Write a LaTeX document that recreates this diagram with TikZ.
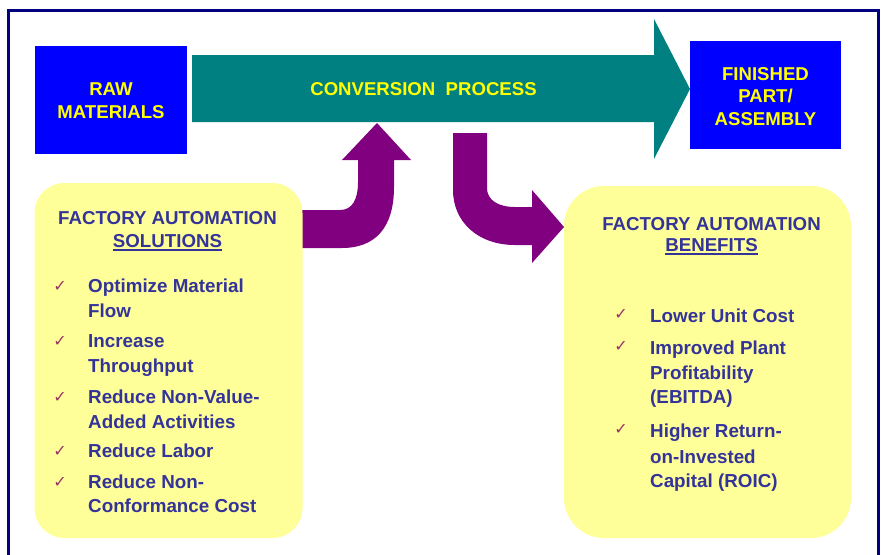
\documentclass[tikz,border=0pt]{standalone}
\usepackage{fontspec}
\setmainfont{Liberation Sans}
\newfontfamily\symfont{DejaVu Sans}
\definecolor{framenavy}{HTML}{000080}
\definecolor{boxblue}{HTML}{0000FF}
\definecolor{boxyellow}{HTML}{FFFF00}
\definecolor{pale}{HTML}{FFFF99}
\definecolor{teal}{HTML}{008080}
\definecolor{purp}{HTML}{800080}
\definecolor{txtnavy}{HTML}{333399}
\definecolor{chk}{HTML}{993366}
\begin{document}
\begin{tikzpicture}[x=1pt,y=-1pt,
  bluebox/.style={fill=boxblue, draw=none, inner sep=0pt},
  palebox/.style={fill=pale, draw=none, inner sep=0pt},
  ytxt/.style={text=boxyellow, font=\fontsize{18.6}{22}\selectfont\bfseries, inner sep=0pt, anchor=base},
  ntxt/.style={text=txtnavy, font=\fontsize{18.7}{22}\selectfont\bfseries, inner sep=0pt, anchor=base},
  itxt/.style={text=txtnavy, font=\fontsize{18.8}{22}\selectfont\bfseries, inner sep=0pt, anchor=base west},
  ctxt/.style={text=chk, font=\symfont\fontsize{16}{18}\selectfont, inner sep=0pt, anchor=base},
  uline/.style={draw=txtnavy, line width=1.3pt}]
\useasboundingbox (0,0) rectangle (888,554);
\clip (0,0) rectangle (888,554);
\fill[white] (0,0) rectangle (888,554);
\draw[framenavy, line width=3pt] (8.5,10.5) rectangle (878.5,600);

% teal process arrow
\fill[teal] (192,55) -- (654,55) -- (654,19) -- (690,89) -- (654,159) -- (654,122) -- (192,122) -- cycle;
\node[ytxt] (conv) at (423.5,95) {CONVERSION\ \ PROCESS};

% blue boxes
\node[bluebox, minimum width=152pt, minimum height=108pt] (raw) at (111,100) {};
\node[ytxt] (raw1) at (111,95) {RAW};
\node[ytxt] (raw2) at (111,118) {MATERIALS};
\node[bluebox, minimum width=151pt, minimum height=108pt] (fin) at (765.5,95) {};
\node[ytxt] (fin1) at (765.5,80) {FINISHED};
\node[ytxt] (fin2) at (765.5,102) {PART/};
\node[ytxt] (fin3) at (765.5,125) {ASSEMBLY};

% purple arrows
\fill[purp] (290,210) -- (340,210) .. controls (352,210) and (358,200) .. (358,182) -- (358,160) -- (342,160) -- (377,123) -- (411,160) -- (394,160) -- (394,187) .. controls (394,228) and (375,248) .. (342,248) -- (290,248) -- cycle;
\fill[purp] (453,133) -- (487,133) -- (487,188) .. controls (487,200) and (498,207) .. (515,207) -- (532,207) -- (532,190) -- (564,227) -- (532,263) -- (532,245) -- (515,245) .. controls (478,245) and (453,222) .. (453,190) -- cycle;

% yellow boxes
\node[palebox, minimum width=268pt, minimum height=355pt, rounded corners=30pt] (sol) at (168.5,360.5) {};
\node[palebox, minimum width=287pt, minimum height=352pt, rounded corners=40pt] (ben) at (707.5,362) {};

% left box text
\node[ntxt] (solt1) at (167.5,224) {FACTORY AUTOMATION};
\node[ntxt] (solt2) at (167.5,247) {SOLUTIONS};
\draw[uline] ([yshift=-3pt]solt2.base west) -- ([yshift=-3pt]solt2.base east);
\node[ctxt] (c1) at (60,291) {✓};
\node[itxt] (s1a) at (88,292) {Optimize Material};
\node[itxt] (s1b) at (88,317) {Flow};
\node[ctxt] (c2) at (60,346) {✓};
\node[itxt] (s2a) at (88,347) {Increase};
\node[itxt] (s2b) at (88,372) {Throughput};
\node[ctxt] (c3) at (60,402) {✓};
\node[itxt] (s3a) at (88,403) {Reduce Non-Value-};
\node[itxt] (s3b) at (88,428) {Added Activities};
\node[ctxt] (c4) at (60,456) {✓};
\node[itxt] (s4a) at (88,457) {Reduce Labor};
\node[ctxt] (c5) at (60,487) {✓};
\node[itxt] (s5a) at (88,488) {Reduce Non-};
\node[itxt] (s5b) at (88,512) {Conformance Cost};

% right box text
\node[ntxt] (bent1) at (711.5,230) {FACTORY AUTOMATION};
\node[ntxt] (bent2) at (711.5,251) {BENEFITS};
\draw[uline] ([yshift=-3pt]bent2.base west) -- ([yshift=-3pt]bent2.base east);
\node[ctxt] (d1) at (621,319) {✓};
\node[itxt] (b1a) at (650,322) {Lower Unit Cost};
\node[ctxt] (d2) at (621,351) {✓};
\node[itxt] (b2a) at (650,354) {Improved Plant};
\node[itxt] (b2b) at (650,379) {Profitability};
\node[itxt] (b2c) at (650,403) {(EBITDA)};
\node[ctxt] (d3) at (621,434) {✓};
\node[itxt] (b3a) at (650,437) {Higher Return-};
\node[itxt] (b3b) at (650,463) {on-Invested};
\node[itxt] (b3c) at (650,487) {Capital (ROIC)};
\end{tikzpicture}
\end{document}
